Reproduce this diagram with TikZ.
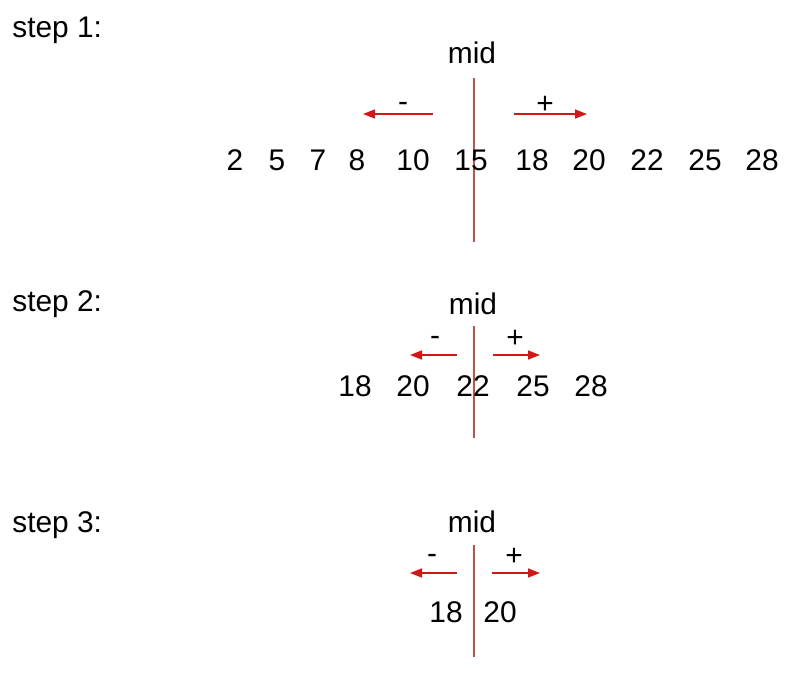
\documentclass[tikz,border=0pt]{standalone}
\usepackage{fontspec}
\setmainfont{Liberation Sans}
\usetikzlibrary{arrows.meta}
\definecolor{cline}{HTML}{C0504D}
\definecolor{carrow}{HTML}{D01818}
\tikzset{
  every picture/.style={font=\fontsize{17}{20}\selectfont},
  num/.style={inner sep=0pt, anchor=center},
  steplabel/.style={inner sep=0pt, anchor=west},
  midline/.style={draw=cline, line width=1.1pt},
  arrow/.style={-{Triangle[length=2.4mm, width=1.8mm]}, draw=carrow, line width=0.9pt},
}

\begin{document}
\begin{tikzpicture}[x=0.02cm, y=-0.02cm]
  \useasboundingbox (0,0) rectangle (801,673);
  % step 1
  \node[steplabel] (s1) at (12,30) {step 1:};
  \node[num] (mid1) at (472,53) {mid};
  \coordinate (top1) at (474,78);
  \coordinate (bot1) at (474,242);
  \draw[midline] (top1) -- (bot1);
  \coordinate (ls1) at (433,114);
  \coordinate (le1) at (363,114);
  \coordinate (rs1) at (514,114);
  \coordinate (re1) at (587,114);
  \draw[arrow] (ls1) -- (le1);
  \draw[arrow] (rs1) -- (re1);
  \node[num] (minus1) at (403,107) {-};
  \node[num] (plus1) at (545,105) {+};
  \node[num] (a1) at (235,160) {2};
  \node[num] (a2) at (277,160) {5};
  \node[num] (a3) at (318,160) {7};
  \node[num] (a4) at (357,160) {8};
  \node[num] (a5) at (413,160) {10};
  \node[num] (a6) at (471,160) {15};
  \node[num] (a7) at (532,160) {18};
  \node[num] (a8) at (589,160) {20};
  \node[num] (a9) at (647,160) {22};
  \node[num] (a10) at (705,160) {25};
  \node[num] (a11) at (762,160) {28};
  % step 2
  \node[steplabel] (s2) at (12,304) {step 2:};
  \node[num] (mid2) at (473,304) {mid};
  \coordinate (top2) at (474,326);
  \coordinate (bot2) at (474,438);
  \draw[midline] (top2) -- (bot2);
  \coordinate (ls2) at (457,355);
  \coordinate (le2) at (410,355);
  \coordinate (rs2) at (493,355);
  \coordinate (re2) at (540,355);
  \draw[arrow] (ls2) -- (le2);
  \draw[arrow] (rs2) -- (re2);
  \node[num] (minus2) at (435,341) {-};
  \node[num] (plus2) at (515,339) {+};
  \node[num] (b1) at (355,386) {18};
  \node[num] (b2) at (413,386) {20};
  \node[num] (b3) at (473,386) {22};
  \node[num] (b4) at (533,386) {25};
  \node[num] (b5) at (591,386) {28};
  % step 3
  \node[steplabel] (s3) at (12,525) {step 3:};
  \node[num] (mid3) at (472,522) {mid};
  \coordinate (top3) at (474,545);
  \coordinate (bot3) at (474,657);
  \draw[midline] (top3) -- (bot3);
  \coordinate (ls3) at (457,573);
  \coordinate (le3) at (410,573);
  \coordinate (rs3) at (492,573);
  \coordinate (re3) at (540,573);
  \draw[arrow] (ls3) -- (le3);
  \draw[arrow] (rs3) -- (re3);
  \node[num] (minus3) at (432,559) {-};
  \node[num] (plus3) at (514,557) {+};
  \node[num] (c1) at (446,612) {18};
  \node[num] (c2) at (500,612) {20};
\end{tikzpicture}
\end{document}
